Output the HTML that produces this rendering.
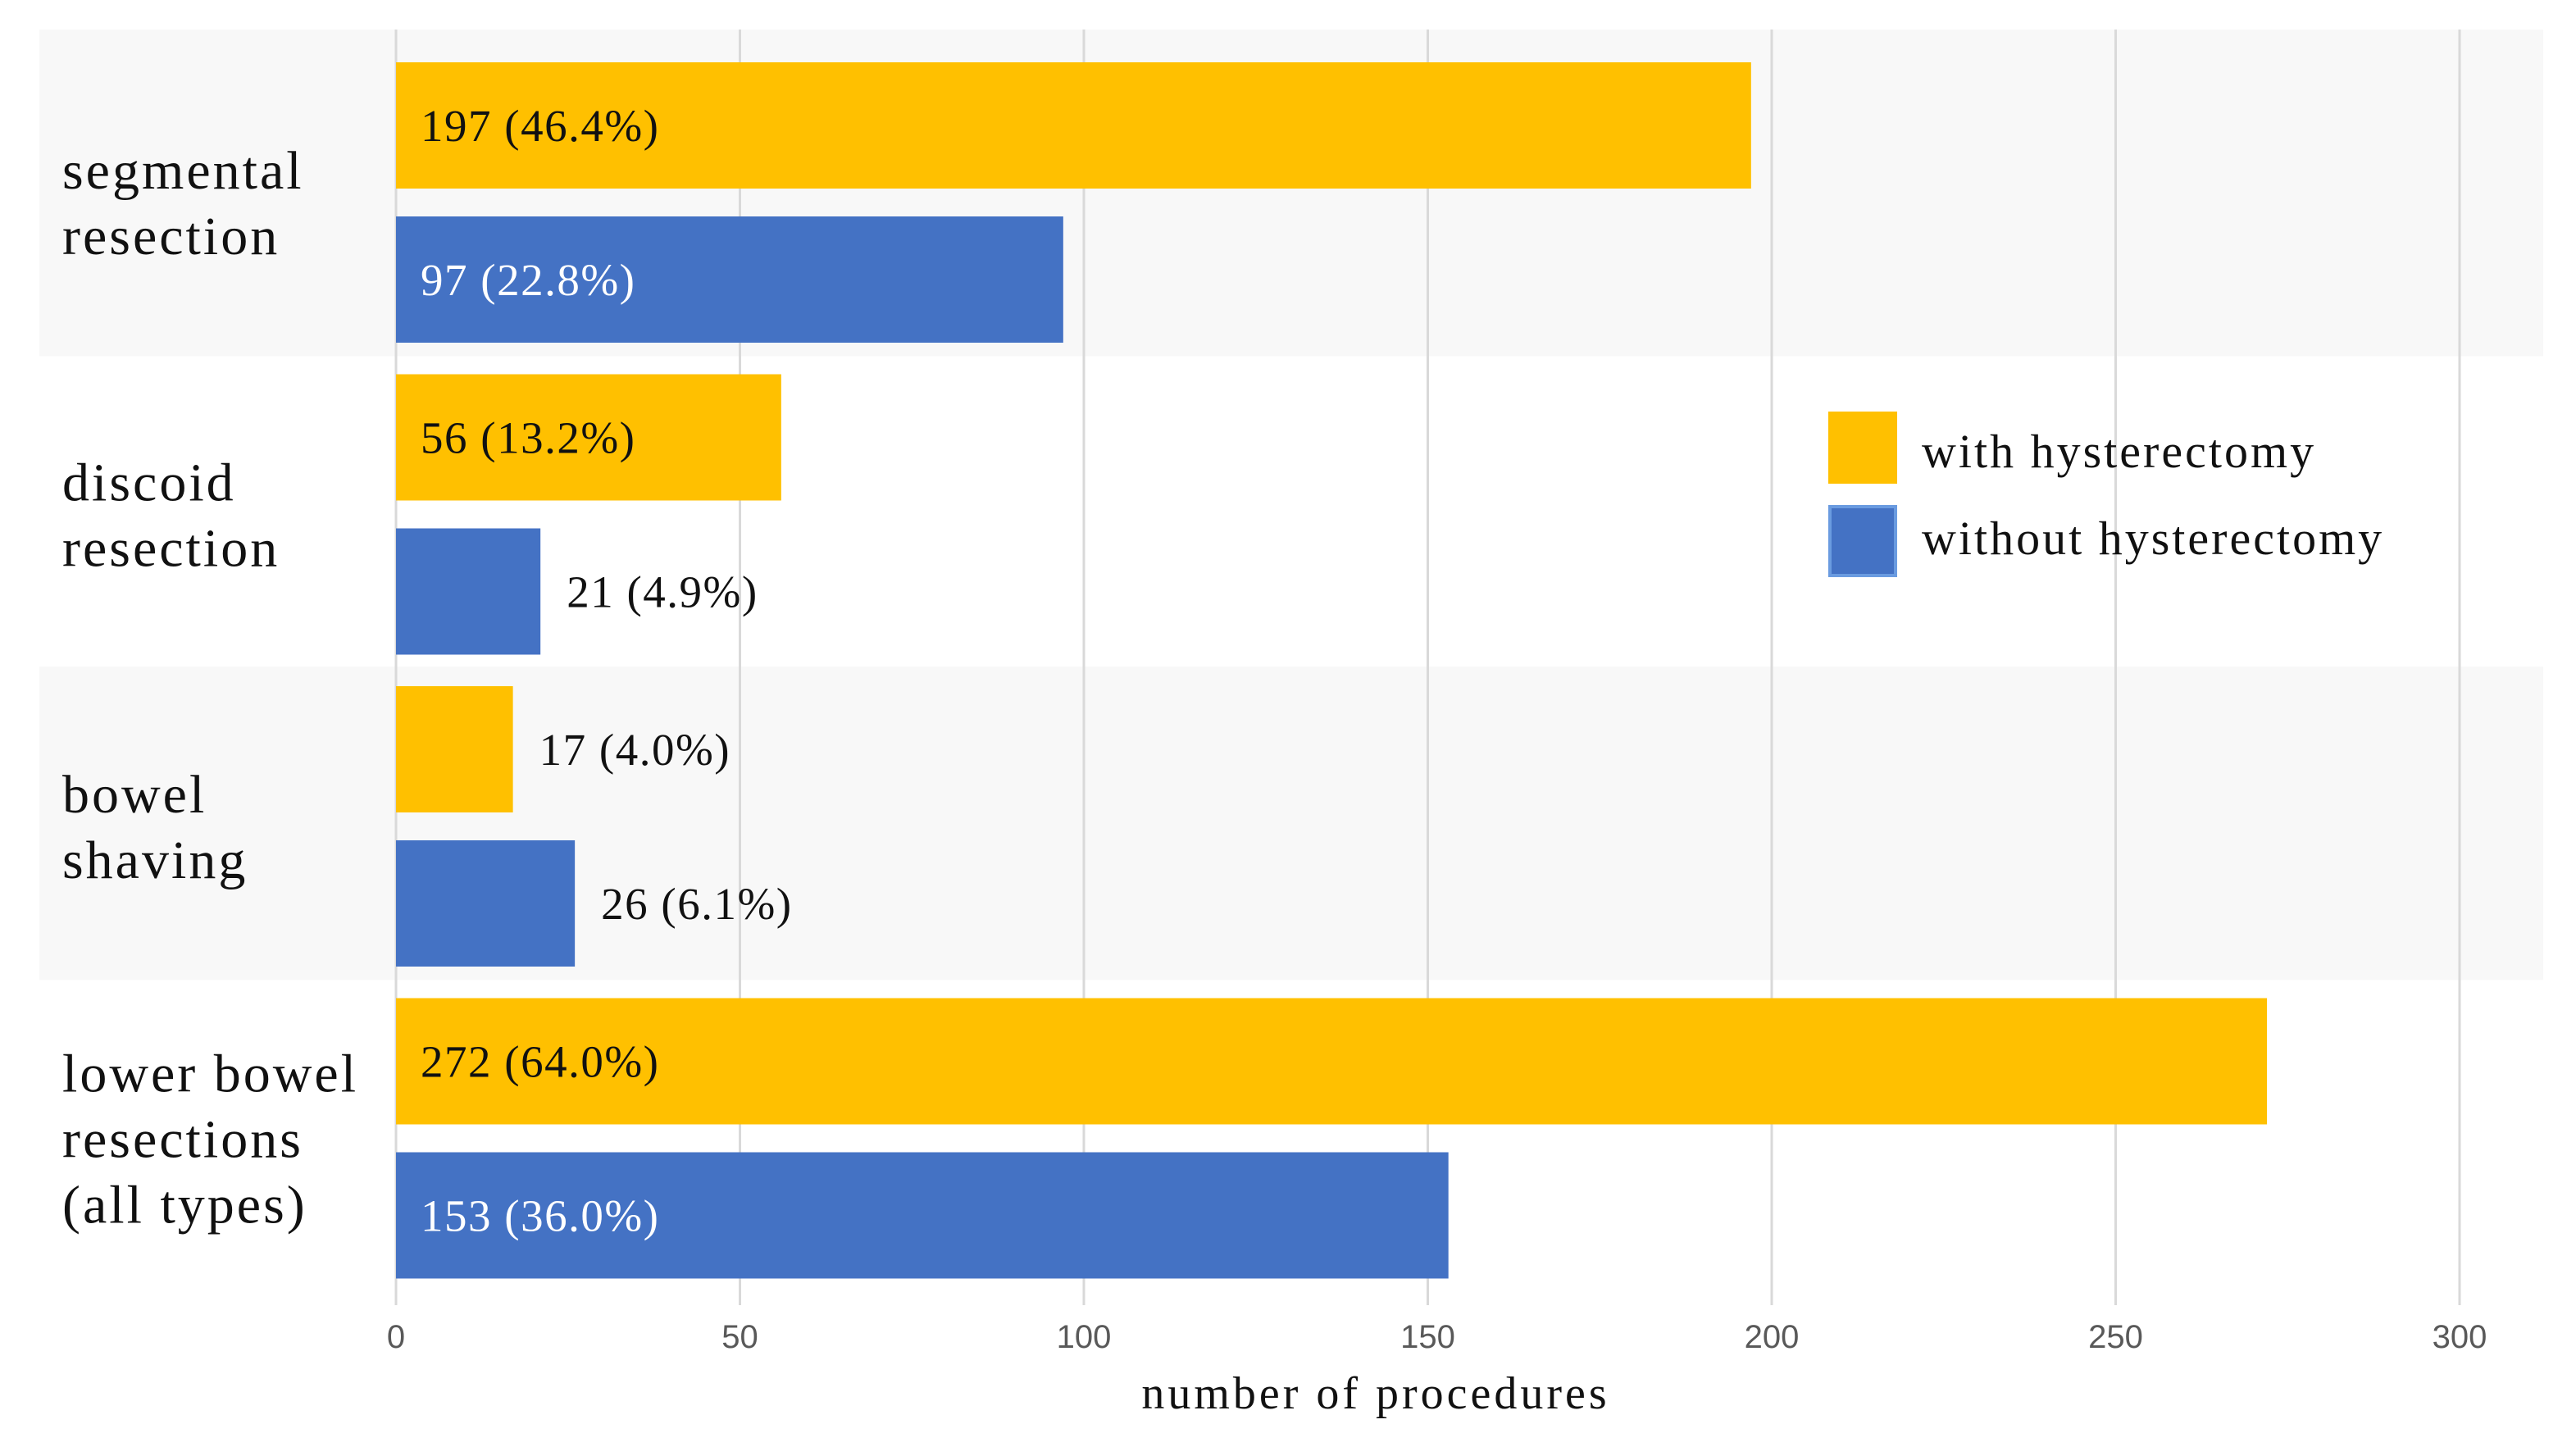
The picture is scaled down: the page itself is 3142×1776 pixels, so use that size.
<!DOCTYPE html>
<html><head><meta charset="utf-8"><style>
html,body{margin:0;padding:0;background:#fff;}
svg{display:block;}
</style></head><body>
<svg id="chart" width="3142" height="1776" viewBox="0 0 3142 1776" xmlns="http://www.w3.org/2000/svg">
<g id="bands"></g><g id="grid"></g><g id="bars"></g><g id="labels"></g><g id="cats"></g><g id="ticks"></g>
<text x="1678" y="1718" text-anchor="middle" font-family="Liberation Serif, serif" font-size="56" letter-spacing="4" fill="#111">number of procedures</text>
<g>
<rect x="2230" y="502" width="84" height="88" fill="#FFC000"/>
<text x="2344" y="570" font-family="Liberation Serif, serif" font-size="58" letter-spacing="3" fill="#111">with hysterectomy</text>
<rect x="2232" y="618" width="80" height="84" fill="#4472C4" stroke="#6a9be0" stroke-width="4"/>
<text x="2344" y="676" font-family="Liberation Serif, serif" font-size="58" letter-spacing="3" fill="#111">without hysterectomy</text>
</g>
</svg>
<script>
const categories = [["segmental","resection"],["discoid","resection"],["bowel","shaving"],["lower bowel","resections","(all types)"]];
const withValues = [197, 56, 17, 272];
const withLabels = ["197 (46.4%)","56 (13.2%)","17 (4.0%)","272 (64.0%)"];
const withoutValues = [97, 21, 26, 153];
const withoutLabels = ["97 (22.8%)","21 (4.9%)","26 (6.1%)","153 (36.0%)"];
const ticks = [0,50,100,150,200,250,300];

const NS = "http://www.w3.org/2000/svg";
const X0 = 483, XPER = 8.39, TOP = 36, PITCH = 380.5, BARH = 154;
const x = v => X0 + v * XPER;
const yellowTop = i => 76 + i * PITCH;
function mk(tag, attrs, parent){const e=document.createElementNS(NS,tag);for(const k in attrs)e.setAttribute(k,attrs[k]);document.getElementById(parent).appendChild(e);return e;}

categories.forEach((c,i)=>{
  if(i%2===0){
    const t = i===0 ? TOP : yellowTop(i)-24;
    const b = yellowTop(i+1)-22;
    const r=mk("rect",{x:48,y:t,width:3054,height:b-t,fill:"#f8f8f8"},"bands");
    
    
  }
});
ticks.forEach(t=>{
  const l=mk("line",{x1:x(t),x2:x(t),y1:TOP,y2:1592,stroke:"#d9d9d9","stroke-width":3},"grid");
  
  
  const tx=mk("text",{x:x(t),y:1644,"text-anchor":"middle","font-family":"Liberation Sans, sans-serif","font-size":40,fill:"#595959"},"ticks");
  tx.textContent=t;
  
  
});
function bar(v,label,y,color,inColor,name){
  const r=mk("rect",{x:X0,y:y,width:x(v)-X0,height:BARH,fill:color},"bars");
  
  
  const inside = v>=50;
  const t=mk("text",{x: inside? X0+30 : x(v)+32, y:y+96,"font-family":"Liberation Serif, serif","font-size":55,"letter-spacing":1.5,fill: inside? inColor:"#111"},"labels");
  t.textContent=label;
  
  
}
categories.forEach((c,i)=>{
  const yt=yellowTop(i);
  bar(withValues[i],withLabels[i],yt,"#FFC000","#111","bar-with-hysterectomy");
  bar(withoutValues[i],withoutLabels[i],yt+188,"#4472C4","#fff","bar-without-hysterectomy");
  const center=yt+150;
  c.forEach((line,k)=>{
    const t=mk("text",{x:76,y:center+(k-(c.length-1)/2)*80+44,"font-family":"Liberation Serif, serif","font-size":66,"letter-spacing":3,fill:"#111"},"cats");
    t.textContent=line;
    
    
  });
});
</script>
</body></html>
